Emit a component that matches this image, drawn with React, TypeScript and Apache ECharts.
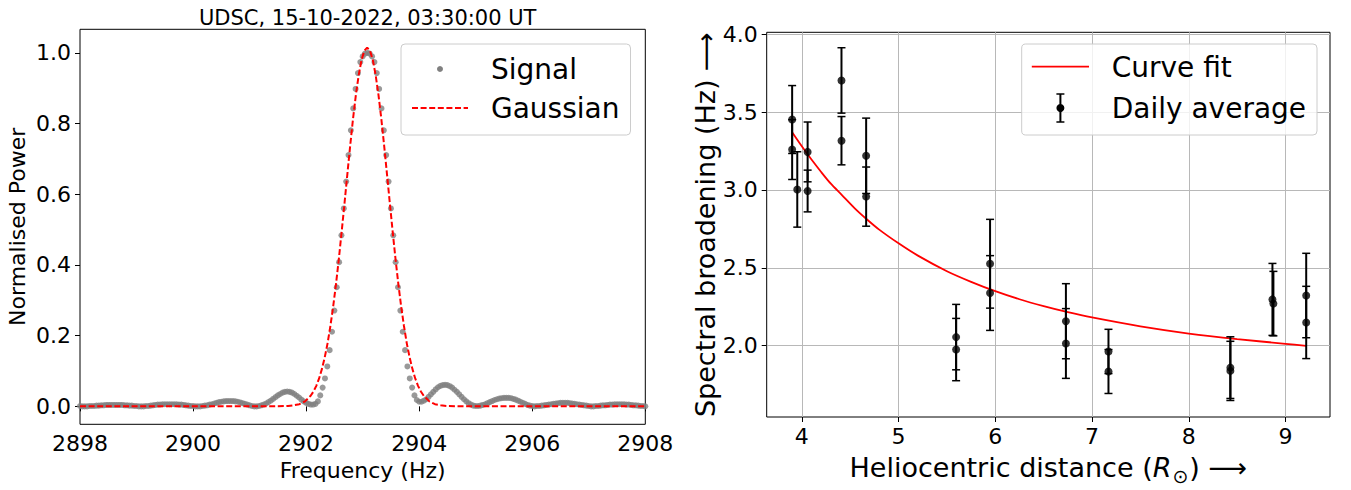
import React, { useEffect, useRef } from "react";
import * as echarts from "echarts";

// ---------- Left panel: spectrum ----------
const TITLE_TEXT = "UDSC, 15-10-2022, 03:30:00 UT";
const SIGNAL_START_HZ = 2898;
const SIGNAL_STEP_HZ = 1 / 24;
// normalised power of each spectral bin (2898 Hz ... 2908 Hz)
const SIGNAL_POWER: number[] = [
  0.001, 0.0, 0.0, 0.0, 0.001, 0.001, 0.001, 0.002, 0.002, 0.003, 0.003, 0.004,
  0.004, 0.004, 0.004, 0.004, 0.004, 0.004, 0.004, 0.003, 0.003, 0.002, 0.002, 0.001,
  0.001, 0.0, 0.0, 0.0, 0.001, 0.001, 0.002, 0.003, 0.004, 0.005, 0.005, 0.006,
  0.006, 0.006, 0.006, 0.006, 0.006, 0.006, 0.005, 0.005, 0.004, 0.003, 0.002, 0.001,
  0.001, 0.0, 0.0, 0.0, 0.001, 0.002, 0.003, 0.005, 0.006, 0.008, 0.01, 0.012,
  0.013, 0.014, 0.015, 0.015, 0.015, 0.015, 0.014, 0.013, 0.011, 0.009, 0.007, 0.005,
  0.003, 0.001, 0.0, 0.0, 0.001, 0.003, 0.005, 0.008, 0.012, 0.016, 0.021, 0.026,
  0.031, 0.035, 0.039, 0.041, 0.042, 0.041, 0.039, 0.035, 0.03, 0.025, 0.019, 0.014,
  0.01, 0.007, 0.005, 0.005, 0.007, 0.014, 0.031, 0.053, 0.079, 0.113, 0.159, 0.211,
  0.271, 0.337, 0.408, 0.484, 0.56, 0.636, 0.711, 0.781, 0.843, 0.898, 0.943, 0.974,
  0.99, 0.998, 1.0, 0.998, 0.99, 0.974, 0.943, 0.898, 0.843, 0.781, 0.711, 0.636,
  0.56, 0.484, 0.408, 0.337, 0.271, 0.211, 0.159, 0.113, 0.079, 0.053, 0.031, 0.018,
  0.013, 0.013, 0.016, 0.02, 0.027, 0.034, 0.041, 0.048, 0.054, 0.058, 0.06, 0.061,
  0.06, 0.057, 0.053, 0.047, 0.041, 0.034, 0.027, 0.02, 0.014, 0.009, 0.005, 0.002,
  0.001, 0.001, 0.002, 0.004, 0.006, 0.009, 0.012, 0.015, 0.018, 0.02, 0.022, 0.023,
  0.024, 0.024, 0.024, 0.023, 0.021, 0.019, 0.016, 0.013, 0.01, 0.007, 0.004, 0.002,
  0.001, 0.0, 0.001, 0.001, 0.002, 0.003, 0.004, 0.005, 0.006, 0.007, 0.008, 0.009,
  0.01, 0.01, 0.01, 0.01, 0.009, 0.008, 0.007, 0.006, 0.005, 0.004, 0.003, 0.002,
  0.001, 0.0, 0.0, 0.001, 0.001, 0.002, 0.003, 0.003, 0.004, 0.005, 0.005, 0.006,
  0.006, 0.006, 0.006, 0.006, 0.005, 0.005, 0.004, 0.003, 0.003, 0.002, 0.001, 0.001,
  0.0,
];
const GAUSS_FREQ: number[] = [
  2898.0, 2901.4, 2901.68, 2901.78, 2901.88, 2901.98, 2902.08,
  2902.13, 2902.18, 2902.23, 2902.28, 2902.33, 2902.38, 2902.43, 2902.48, 2902.53, 2902.58,
  2902.63, 2902.68, 2902.73, 2902.78, 2902.83, 2902.88, 2902.93, 2902.98, 2903.03,
  2903.08,
  2903.13, 2903.18, 2903.23, 2903.28, 2903.33, 2903.38, 2903.43, 2903.48, 2903.53, 2903.58,
  2903.63, 2903.68, 2903.73, 2903.78, 2903.83, 2903.88, 2903.93, 2903.98, 2904.03, 2904.08,
  2904.18, 2904.28, 2904.38, 2904.48, 2904.76, 2908.0,
];
const GAUSS_POWER: number[] = [
  0.0, 0.0, 0.001, 0.003, 0.006, 0.014, 0.03,
  0.042, 0.058, 0.079, 0.106, 0.139, 0.179, 0.228, 0.284, 0.348, 0.419,
  0.496, 0.576, 0.658, 0.738, 0.814, 0.881, 0.937, 0.98, 1.006,
  1.015,
  1.006, 0.98, 0.937, 0.881, 0.814, 0.738, 0.658, 0.576, 0.496, 0.419,
  0.348, 0.284, 0.228, 0.179, 0.139, 0.106, 0.079, 0.058, 0.042, 0.03,
  0.014, 0.006, 0.003, 0.001, 0.0, 0.0,
];
const FREQ_TICKS = [2898, 2900, 2902, 2904, 2906, 2908];
const POWER_TICKS = [0, 0.2, 0.4, 0.6, 0.8, 1.0];

// ---------- Right panel: spectral broadening ----------
const DIST: number[] = [
  3.9, 3.9, 3.953, 4.06, 4.06, 4.41, 4.41, 4.665, 4.665, 5.595, 5.595, 5.946,
  5.946, 6.73, 6.73, 7.17, 7.17, 8.43, 8.43, 8.865, 8.875, 9.214, 9.214,
];
const BROAD: number[] = [
  3.452, 3.259, 3.003, 3.244, 2.993, 3.703, 3.316, 3.219, 2.957, 2.055, 1.975, 2.526,
  2.338, 2.157, 2.014, 1.963, 1.834, 1.859, 1.838, 2.297, 2.27, 2.322, 2.149,
];
const BROAD_ERR: number[] = [
  0.218, 0.192, 0.242, 0.192, 0.134, 0.21, 0.155, 0.242, 0.19, 0.21, 0.2, 0.285,
  0.24, 0.241, 0.224, 0.142, 0.141, 0.198, 0.19, 0.231, 0.207, 0.271, 0.232,
];
const FIT_DIST: number[] = [
  3.9, 4.0, 4.1, 4.2, 4.3, 4.41, 4.55, 4.665, 4.8, 5.0, 5.2, 5.5,
  5.75, 6.0, 6.25, 6.5, 6.75, 7.0, 7.5, 8.0, 8.5, 9.0, 9.214,
];
const FIT_BROAD: number[] = [
  3.37, 3.28, 3.195, 3.115, 3.04, 2.97, 2.88, 2.815, 2.745, 2.657, 2.578, 2.478,
  2.41, 2.35, 2.298, 2.254, 2.215, 2.181, 2.124, 2.078, 2.042, 2.012, 1.999,
];
const DIST_TICKS = [4, 5, 6, 7, 8, 9];
const BROAD_TICKS = [2.0, 2.5, 3.0, 3.5, 4.0];

const FONT = "DejaVu Sans";

export default function App() {
  const ref = useRef<HTMLDivElement | null>(null);

  useEffect(() => {
    document.body.style.margin = "0";
    if (!ref.current) return;
    const chart = echarts.init(ref.current, undefined, { renderer: "svg" });

    const signalData = SIGNAL_POWER.map((p, i) => [SIGNAL_START_HZ + i * SIGNAL_STEP_HZ, p]);
    const gaussData = GAUSS_FREQ.map((f, i) => [f, GAUSS_POWER[i]]);
    const fitData = FIT_DIST.map((d, i) => [d, FIT_BROAD[i]]);
    const ptData = DIST.map((d, i) => [d, BROAD[i], BROAD_ERR[i]]);

    const tickStyle = { show: true, length: 5, inside: false, lineStyle: { color: "#000", width: 1 } };
    const labelBase = { color: "#000", fontSize: 22, fontFamily: FONT };

    const option: any = {
      animation: false,
      textStyle: { fontFamily: FONT },
      title: {
        text: TITLE_TEXT,
        left: 362.7,
        top: 2,
        textAlign: "center",
        textStyle: { fontSize: 21, fontWeight: "normal", color: "#000", fontFamily: FONT },
      },
      grid: [
        { left: 80, right: 705.7, top: 29.3, bottom: 65.7, show: true, borderColor: "#000", borderWidth: 1, backgroundColor: "transparent" },
        { left: 766.7, right: 21, top: 32.3, bottom: 66, show: true, borderColor: "#000", borderWidth: 1, backgroundColor: "transparent" },
      ],
      xAxis: [
        {
          type: "value", gridIndex: 0, min: 2898, max: 2908, interval: 2,
          axisLine: { show: false },
          axisTick: { ...tickStyle, customValues: FREQ_TICKS },
          axisLabel: { ...labelBase, margin: 8, customValues: FREQ_TICKS, formatter: (v: number) => String(v) },
          splitLine: { show: false },
          name: "Frequency (Hz)", nameLocation: "middle", nameGap: 34,
          nameTextStyle: { fontSize: 22, color: "#000", fontFamily: FONT },
        },
        {
          type: "value", gridIndex: 1, min: 3.637, max: 9.46,
          axisLine: { show: false },
          axisTick: { ...tickStyle, customValues: DIST_TICKS },
          axisLabel: { ...labelBase, margin: 8, customValues: DIST_TICKS, formatter: (v: number) => String(Math.round(v)) },
          splitLine: { show: true, lineStyle: { color: "#b8b8b8", width: 1 } },
          name: "{t|Heliocentric distance (}{i|R}{s|⊙}{t|) ⟶}",
          nameLocation: "middle", nameGap: 33,
          nameTextStyle: {
            fontSize: 27, color: "#000", fontFamily: FONT,
            rich: {
              t: { fontSize: 27, fontFamily: FONT, color: "#000" },
              i: { fontSize: 27, fontFamily: FONT, fontStyle: "italic", color: "#000" },
              s: { fontSize: 19, fontFamily: FONT, color: "#000", padding: [16, 1, 0, 1] },
            },
          },
        },
      ],
      yAxis: [
        {
          type: "value", gridIndex: 0, min: -0.0508, max: 1.0668,
          axisLine: { show: false },
          axisTick: { ...tickStyle, customValues: POWER_TICKS },
          axisLabel: { ...labelBase, margin: 9, customValues: POWER_TICKS, formatter: (v: number) => v.toFixed(1) },
          splitLine: { show: false },
          name: "Normalised Power", nameLocation: "middle", nameGap: 52,
          nameTextStyle: { fontSize: 22, color: "#000", fontFamily: FONT },
        },
        {
          type: "value", gridIndex: 1, min: 1.542, max: 4.012,
          axisLine: { show: false },
          axisTick: { ...tickStyle, customValues: BROAD_TICKS },
          axisLabel: { ...labelBase, margin: 9, customValues: BROAD_TICKS, formatter: (v: number) => v.toFixed(1) },
          splitLine: { show: true, lineStyle: { color: "#b8b8b8", width: 1 } },
          name: "Spectral broadening (Hz) ⟶", nameLocation: "middle", nameGap: 46,
          nameTextStyle: { fontSize: 27, color: "#000", fontFamily: FONT },
        },
      ],
      series: [
        {
          name: "Signal", type: "scatter", xAxisIndex: 0, yAxisIndex: 0,
          data: signalData, symbol: "circle", symbolSize: 6,
          itemStyle: { color: "#808080" }, z: 2,
        },
        {
          name: "Gaussian", type: "line", xAxisIndex: 0, yAxisIndex: 0,
          data: gaussData, showSymbol: false, symbol: "none",
          lineStyle: { color: "#ff0000", width: 2, type: [6, 2.6] }, z: 3,
        },
        {
          name: "Curve fit", type: "line", xAxisIndex: 1, yAxisIndex: 1,
          data: fitData, showSymbol: false, symbol: "none", smooth: 0.3,
          lineStyle: { color: "#ff0000", width: 1.8 }, z: 2,
        },
        {
          name: "Error", type: "custom", xAxisIndex: 1, yAxisIndex: 1,
          data: ptData, encode: { x: 0, y: 1 }, z: 3,
          renderItem: (params: any, api: any) => {
            const x = api.value(0);
            const y = api.value(1);
            const e = api.value(2);
            const hi = api.coord([x, y + e]);
            const lo = api.coord([x, y - e]);
            const cw = 4;
            return {
              type: "group",
              children: [
                { type: "line", shape: { x1: hi[0], y1: hi[1], x2: lo[0], y2: lo[1] }, style: { stroke: "#000", lineWidth: 2 } },
                { type: "line", shape: { x1: hi[0] - cw, y1: hi[1], x2: hi[0] + cw, y2: hi[1] }, style: { stroke: "#000", lineWidth: 1.5 } },
                { type: "line", shape: { x1: lo[0] - cw, y1: lo[1], x2: lo[0] + cw, y2: lo[1] }, style: { stroke: "#000", lineWidth: 1.5 } },
              ],
            };
          },
        },
        {
          name: "Daily average", type: "scatter", xAxisIndex: 1, yAxisIndex: 1,
          data: ptData.map((d) => [d[0], d[1]]), symbol: "circle", symbolSize: 8,
          itemStyle: { color: "#000" }, z: 4,
        },
      ],
      graphic: [
        // left legend
        { type: "rect", shape: { x: 401, y: 44, width: 229.5, height: 91, r: 4 }, style: { fill: "rgba(255,255,255,0.8)", stroke: "#cccccc", lineWidth: 1 }, z: 10 },
        { type: "circle", shape: { cx: 440, cy: 69, r: 3 }, style: { fill: "#808080" }, z: 11 },
        { type: "text", x: 491, y: 69, style: { text: "Signal", fontSize: 28, fontFamily: FONT, fill: "#000", align: "left", verticalAlign: "middle" }, z: 11 },
        { type: "line", shape: { x1: 412, y1: 108, x2: 468, y2: 108 }, style: { stroke: "#ff0000", lineWidth: 2, lineDash: [6, 2.6] }, z: 11 },
        { type: "text", x: 491, y: 108, style: { text: "Gaussian", fontSize: 28, fontFamily: FONT, fill: "#000", align: "left", verticalAlign: "middle" }, z: 11 },
        // right legend
        { type: "rect", shape: { x: 1021.7, y: 44, width: 295.3, height: 91, r: 4 }, style: { fill: "rgba(255,255,255,0.8)", stroke: "#cccccc", lineWidth: 1 }, z: 10 },
        { type: "line", shape: { x1: 1031.8, y1: 66.7, x2: 1089, y2: 66.7 }, style: { stroke: "#ff0000", lineWidth: 1.8 }, z: 11 },
        { type: "text", x: 1111.7, y: 67, style: { text: "Curve fit", fontSize: 28, fontFamily: FONT, fill: "#000", align: "left", verticalAlign: "middle" }, z: 11 },
        { type: "line", shape: { x1: 1060.4, y1: 94, x2: 1060.4, y2: 122 }, style: { stroke: "#000", lineWidth: 2 }, z: 11 },
        { type: "line", shape: { x1: 1056.4, y1: 94, x2: 1064.4, y2: 94 }, style: { stroke: "#000", lineWidth: 1.5 }, z: 11 },
        { type: "line", shape: { x1: 1056.4, y1: 122, x2: 1064.4, y2: 122 }, style: { stroke: "#000", lineWidth: 1.5 }, z: 11 },
        { type: "circle", shape: { cx: 1060.4, cy: 108, r: 4 }, style: { fill: "#000" }, z: 11 },
        { type: "text", x: 1111.7, y: 108, style: { text: "Daily average", fontSize: 28, fontFamily: FONT, fill: "#000", align: "left", verticalAlign: "middle" }, z: 11 },
      ],
    };

    chart.setOption(option);
    return () => {
      chart.dispose();
    };
  }, []);

  return <div ref={ref} style={{ width: 1351, height: 490 }} />;
}
